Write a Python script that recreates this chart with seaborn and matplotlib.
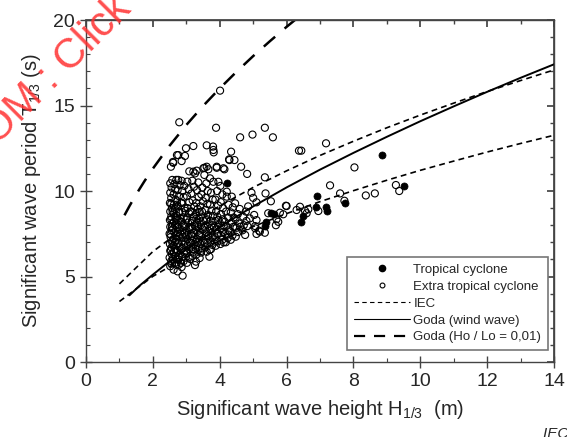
import matplotlib
matplotlib.use('Agg')
import matplotlib.pyplot as plt
import seaborn as sns
from matplotlib.lines import Line2D
from matplotlib.ticker import MultipleLocator

# Extra tropical cyclone (open circles)
ext_h = [
    2.52, 2.55, 2.50, 2.57, 2.52, 2.56, 2.51, 2.58, 2.53, 2.50, 2.56, 2.52, 2.58, 2.51, 2.55, 2.52, 2.57, 2.51, 2.55, 2.52, 2.56, 2.52, 2.58,
    2.62, 2.66, 2.61, 2.68, 2.63, 2.67, 2.61, 2.66, 2.62, 2.69, 2.64, 2.61, 2.67, 2.63, 2.68, 2.62, 2.66, 2.63, 2.68, 2.62, 2.67, 2.64, 2.70,
    2.74, 2.78, 2.72, 2.77, 2.73, 2.79, 2.75, 2.71, 2.78, 2.74, 2.80, 2.73, 2.77, 2.72, 2.79, 2.75, 2.72, 2.78, 2.74, 2.80, 2.76,
    2.89, 2.86, 2.92, 2.87, 2.94, 2.88, 2.93, 2.86, 2.91, 2.95, 2.88, 2.93, 2.86, 2.92, 2.89, 2.95, 2.87, 2.92, 2.88, 2.94, 2.86,
    3.02, 3.07, 3.01, 3.08, 3.04, 3.10, 3.03, 3.07, 3.01, 3.09, 3.05, 3.02, 3.08, 3.04, 3.09, 3.02, 3.07, 3.03,
    3.18, 3.22, 3.15, 3.24, 3.19, 3.16, 3.23, 3.18, 3.25, 3.17, 3.22, 3.16, 3.24, 3.19, 3.15, 3.23, 3.18,
    3.26, 3.29, 3.31, 3.36, 3.29, 3.35, 3.31, 3.38, 3.30, 3.36, 3.32, 3.38, 3.29, 3.34, 3.30, 3.37, 3.32, 3.36,
    3.44, 3.48, 3.42, 3.50, 3.45, 3.41, 3.49, 3.44, 3.51, 3.43, 3.47, 3.42, 3.50, 3.45, 3.48,
    3.61, 3.69, 3.57, 3.63, 3.58, 3.65, 3.60, 3.56, 3.64, 3.59, 3.65, 3.57, 3.63, 3.58, 3.64, 3.60,
    3.74, 3.78, 3.72, 3.79, 3.75, 3.71, 3.78, 3.73, 3.80, 3.75, 3.71, 3.79, 3.74, 3.71, 3.81,
    3.88, 3.93, 3.86, 3.92, 3.88, 3.95, 3.87, 3.93, 3.89, 3.95, 3.87, 3.92, 3.96,
    4.02, 4.08, 4.03, 4.10, 4.05, 4.01, 4.09, 4.04, 4.10, 4.03, 4.08, 4.02,
    4.18, 4.24, 4.17, 4.26, 4.20, 4.15, 4.25, 4.19, 4.26, 4.21, 4.21,
    4.33, 4.38, 4.31, 4.40, 4.35, 4.42, 4.33, 4.39, 4.36, 4.46,
    4.48, 4.55, 4.50, 4.58, 4.47, 4.54, 4.60, 4.61,
    4.68, 4.76, 4.72, 4.80, 4.70, 4.78, 4.85, 4.83,
    4.90, 5.03, 5.06, 5.06, 5.10, 5.18, 5.35, 5.10, 5.20, 5.45, 5.80, 5.90, 5.70, 5.75, 5.68, 5.98,
    6.40, 6.55, 6.65, 6.95, 5.53, 5.10, 5.37, 5.35, 5.00, 4.95, 6.00, 6.30, 6.60,
    4.01, 2.79, 3.89, 5.35, 4.98, 4.61, 5.59, 3.21, 2.99, 3.61, 3.80, 3.81, 3.82, 4.34, 4.28, 2.76, 2.96, 2.86,
    2.61, 2.54, 6.37, 7.18, 4.64, 4.82, 3.91, 4.14, 3.54, 3.66, 3.31, 3.09, 3.54, 3.26, 4.44, 4.29, 3.61, 3.21,
    3.51, 4.11, 3.91, 2.72, 2.60,
    7.30, 8.03, 7.60, 8.37, 8.64, 9.27, 9.37, 7.73, 6.44,
    2.59, 2.77, 2.98, 3.12, 3.40,
    2.54, 2.70, 2.84, 3.00, 3.20, 3.45, 3.70,
    2.58, 2.75, 2.97, 3.12, 3.28, 3.54, 3.85, 4.12,
    2.53, 2.69, 2.82, 3.00, 3.14, 3.40, 3.66, 3.95, 4.25,
    2.57, 2.73, 2.96, 3.12, 3.27, 3.52, 3.83, 4.12, 4.45,
    2.55, 2.70, 2.83, 3.00, 3.30, 3.62, 3.96,
    2.59, 2.78, 2.97, 3.12, 3.40,
    2.55, 2.72, 2.85,
    2.56, 2.70, 2.84,
]
ext_t = [
    5.6, 5.9, 6.1, 6.3, 6.5, 6.7, 6.9, 7.1, 7.3, 7.5, 7.7, 7.9, 8.1, 8.3, 8.5, 8.8, 9.0, 9.3, 9.6, 9.9, 10.2, 10.45, 10.65,
    5.4, 5.8, 6.0, 6.2, 6.45, 6.6, 6.8, 7.0, 7.2, 7.4, 7.6, 7.8, 8.0, 8.2, 8.45, 8.7, 8.95, 9.2, 9.5, 9.8, 10.1, 10.4, 10.65,
    5.3, 5.7, 6.0, 6.25, 6.55, 6.75, 6.95, 7.15, 7.35, 7.6, 7.8, 8.05, 8.3, 8.55, 8.8, 9.1, 9.4, 9.7, 10.05, 10.35, 10.65,
    5.05, 5.55, 5.9, 6.15, 6.4, 6.65, 6.85, 7.05, 7.3, 7.5, 7.7, 7.95, 8.2, 8.45, 8.75, 9.0, 9.3, 9.65, 10.0, 10.3, 10.6,
    5.8, 6.1, 6.35, 6.6, 6.8, 7.0, 7.2, 7.45, 7.7, 7.9, 8.15, 8.4, 8.7, 9.0, 9.35, 9.7, 10.1, 10.55,
    6.2, 6.45, 6.7, 6.9, 7.1, 7.35, 7.55, 7.8, 8.0, 8.25, 8.5, 8.8, 9.1, 9.45, 9.85, 10.25, 10.6,
    5.67, 5.87, 6.3, 6.55, 6.8, 7.0, 7.2, 7.45, 7.7, 7.9, 8.15, 8.4, 8.65, 8.95, 9.3, 9.65, 10.05, 10.5,
    6.4, 6.65, 6.9, 7.1, 7.3, 7.55, 7.75, 8.0, 8.25, 8.5, 8.8, 9.1, 9.4, 9.8, 10.2,
    6.45, 6.16, 6.7, 6.95, 7.15, 7.35, 7.6, 7.85, 8.05, 8.3, 8.6, 8.9, 9.25, 9.6, 10.0, 10.45,
    6.6, 6.85, 7.1, 7.3, 7.55, 7.8, 8.0, 8.25, 8.55, 8.85, 9.2, 9.5, 9.9, 10.74, 10.54,
    6.8, 7.05, 7.3, 7.5, 7.75, 8.0, 8.25, 8.5, 8.8, 9.15, 9.5, 10.0, 10.54,
    6.9, 7.15, 7.4, 7.6, 7.85, 8.1, 8.35, 8.65, 9.0, 9.35, 9.8, 10.3,
    7.0, 7.25, 7.5, 7.7, 7.95, 8.2, 8.45, 8.8, 9.2, 9.67, 9.96,
    7.15, 7.4, 7.65, 7.9, 8.15, 8.45, 8.75, 9.05, 9.67, 9.28,
    7.33, 7.6, 7.85, 8.1, 8.35, 8.65, 8.95, 7.91,
    7.7, 7.43, 8.0, 8.25, 8.5, 8.8, 9.1, 7.95,
    8.4, 8.6, 7.95, 7.82, 8.3, 7.68, 7.56, 7.49, 7.62, 8.7, 8.73, 8.64, 8.35, 8.2, 8.0, 9.14,
    9.08, 8.85, 8.93, 8.83, 9.4, 9.34, 9.86, 10.8, 9.6, 9.9, 9.12, 8.89, 8.7,
    15.87, 14.02, 13.7, 13.7, 13.3, 13.14, 13.14, 12.63, 12.5, 12.67, 12.6, 12.4, 12.26, 12.3, 11.85, 12.1, 12.05, 11.75,
    11.65, 11.42, 12.36, 12.79, 11.42, 11.0, 11.36, 11.27, 11.36, 11.27, 11.19, 11.15, 10.94, 11.03, 11.81, 11.81, 11.42, 11.13,
    11.33, 11.33, 11.42, 12.1, 11.7,
    10.33, 11.38, 9.86, 9.74, 9.86, 10.35, 10.0, 9.43, 12.36,
    6.05, 6.0, 6.1, 6.02, 6.08,
    6.55, 6.5, 6.6, 6.52, 6.58, 6.5, 6.56,
    7.0, 6.95, 7.05, 6.98, 7.02, 6.96, 7.04, 7.0,
    7.45, 7.4, 7.5, 7.42, 7.48, 7.44, 7.4, 7.5, 7.46,
    7.9, 7.86, 7.94, 7.88, 7.92, 7.9, 7.85, 7.95, 7.9,
    8.35, 8.3, 8.4, 8.32, 8.38, 8.35, 8.3,
    8.8, 8.76, 8.84, 8.8, 8.78,
    9.25, 9.2, 9.3,
    5.75, 5.7, 5.8,
]

# Tropical cyclone (filled circles)
trop_h = [4.23, 8.84, 9.51, 6.90, 6.88, 7.18, 7.22, 7.75, 6.50, 6.42, 5.53, 5.62, 5.38, 5.35]
trop_t = [10.45, 12.08, 10.32, 9.70, 9.08, 9.08, 8.85, 9.30, 8.54, 8.17, 8.70, 8.64, 8.20, 7.95]

# IEC bounds (upper and lower dashed curves)
iec_h = [1, 2, 3, 4, 5, 6, 7, 8, 9, 10, 11, 12, 13, 14]
iec_upper = [4.57, 6.46, 7.91, 9.13, 10.21, 11.18, 12.08, 12.91, 13.70, 14.44, 15.14, 15.82, 16.46, 17.08]
iec_lower = [3.54, 5.01, 6.14, 7.09, 7.92, 8.68, 9.38, 10.02, 10.63, 11.21, 11.75, 12.28, 12.78, 13.26]

# Goda (wind wave)
goda_h = [1.3, 1.6, 2, 2.5, 3, 4, 5, 6, 7, 8, 9, 10, 11, 12, 13, 14]
goda_t = [3.90, 4.46, 5.11, 5.89, 6.59, 7.90, 9.10, 10.21, 11.25, 12.23, 13.17, 14.08, 14.95, 15.80, 16.62, 17.41]

# Goda (Ho / Lo = 0,01)
steep_h = [1.15, 1.3, 1.5, 1.75, 2, 2.5, 3, 3.5, 4, 4.5, 5, 5.5, 6, 6.3]
steep_t = [8.58, 9.12, 9.80, 10.58, 11.31, 12.65, 13.86, 14.97, 16.00, 16.97, 17.89, 18.76, 19.60, 20.08]

sns.set_theme(style='ticks')
plt.rcParams['font.family'] = ['Liberation Sans', 'DejaVu Sans']
plt.rcParams['mathtext.fontset'] = 'custom'
plt.rcParams['mathtext.rm'] = 'Liberation Sans'
plt.rcParams['mathtext.it'] = 'Liberation Sans:italic'

fig = plt.figure(figsize=(5.67, 4.37), dpi=100)
ax = fig.add_axes([0.1517, 0.1716, 0.8254, 0.7826])

sns.scatterplot(x=ext_h, y=ext_t, ax=ax, marker='o', s=26, color='none',
                edgecolor='black', linewidth=0.8, zorder=3)
sns.scatterplot(x=trop_h, y=trop_t, ax=ax, marker='o', s=26, color='black',
                edgecolor='black', linewidth=0.5, zorder=4)

dash_iec = (0, (3.5, 2.5))
dash_goda = (0, (6, 5))
sns.lineplot(x=iec_h, y=iec_upper, ax=ax, color='black', lw=1.2, linestyle=dash_iec, sort=False)
sns.lineplot(x=iec_h, y=iec_lower, ax=ax, color='black', lw=1.2, linestyle=dash_iec, sort=False)
sns.lineplot(x=goda_h, y=goda_t, ax=ax, color='black', lw=1.4, sort=False)
sns.lineplot(x=steep_h, y=steep_t, ax=ax, color='black', lw=1.8, linestyle=dash_goda, sort=False)

ax.set_xlim(0, 14)
ax.set_ylim(0, 20)
ax.xaxis.set_major_locator(MultipleLocator(2))
ax.xaxis.set_minor_locator(MultipleLocator(1))
ax.yaxis.set_major_locator(MultipleLocator(5))
ax.yaxis.set_minor_locator(MultipleLocator(1))
for sp in ax.spines.values():
    sp.set_visible(True)
    sp.set_color('#444444')
    sp.set_linewidth(1.0)
ax.tick_params(which='major', direction='inout', length=8, width=1, color='#444444',
               labelsize=14, pad=4)
ax.tick_params(which='minor', direction='in', length=3, width=0.8, color='#444444')

top = ax.secondary_xaxis('top')
top.xaxis.set_major_locator(MultipleLocator(2))
top.xaxis.set_minor_locator(MultipleLocator(1))
top.tick_params(which='major', direction='in', length=5, color='#444444', labeltop=False)
top.tick_params(which='minor', direction='in', length=3, color='#444444')
top.spines['top'].set_color('#444444')
right = ax.secondary_yaxis('right')
right.yaxis.set_major_locator(MultipleLocator(5))
right.yaxis.set_minor_locator(MultipleLocator(1))
right.tick_params(which='major', direction='in', length=5, color='#444444', labelright=False)
right.tick_params(which='minor', direction='in', length=3, color='#444444')
right.spines['right'].set_color('#444444')

ax.set_xlabel('Significant wave height H$_\\mathrm{1/3}$  (m)', fontsize=14.5, labelpad=6)
ax.set_ylabel('Significant wave period T$_\\mathrm{1/3}$ (s)', fontsize=14.5, labelpad=7)

handles = [
    Line2D([], [], marker='o', color='black', ls='none', markersize=4.5),
    Line2D([], [], marker='o', mfc='none', mec='black', ls='none', markersize=3.5, mew=0.8),
    Line2D([], [], color='black', lw=0.8, ls=(0, (4, 3))),
    Line2D([], [], color='black', lw=0.8),
    Line2D([], [], color='black', lw=1.6, ls=(0, (5, 4))),
]
labels = ['Tropical cyclone', 'Extra tropical cyclone', 'IEC', 'Goda (wind wave)',
          'Goda (Ho / Lo = 0,01)']
leg = ax.legend(handles, labels, loc='lower right', bbox_to_anchor=(0.987, 0.035),
                borderaxespad=0, handlelength=4.2, handletextpad=0.3, fontsize=9.5,
                labelspacing=0.35, frameon=True, fancybox=False, framealpha=1,
                edgecolor='#777777', borderpad=0.5)
leg.get_frame().set_linewidth(1.2)

fig.text(-0.006, 0.665, 'OM : Click to view the full PDF', rotation=45,
         rotation_mode='anchor', ha='left', va='baseline', fontsize=30,
         color='#ff3030', alpha=0.85)
fig.text(0.958, 0.024, 'IEC  2143/09', style='italic', fontsize=11, va='top', ha='left')

fig.savefig('out.png', dpi=100)
